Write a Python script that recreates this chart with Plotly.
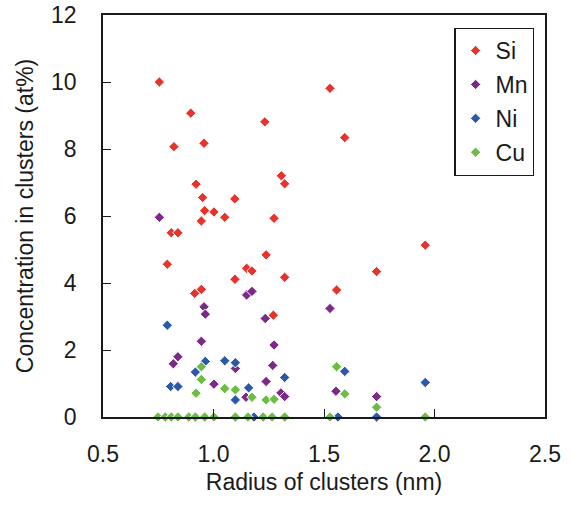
import plotly.graph_objects as go

# Cluster radius (nm) and solute concentration (at%) for each element
si_radius = [0.755, 0.897, 0.821, 0.957, 0.921, 0.951, 1.096, 0.960, 1.002, 1.051,
             0.945, 0.809, 0.839, 0.791, 1.150, 1.174, 1.097, 0.945, 0.915, 1.150,
             1.527, 1.232, 1.594, 1.307, 1.322, 1.274, 1.238, 1.322, 1.738, 1.557,
             1.271, 1.958]
si_conc = [10.0, 9.07, 8.07, 8.17, 6.95, 6.55, 6.51, 6.16, 6.12, 5.96,
           5.85, 5.50, 5.50, 4.56, 4.44, 4.36, 4.11, 3.81, 3.69, 3.64,
           9.81, 8.81, 8.34, 7.20, 6.96, 5.93, 4.84, 4.17, 4.34, 3.79,
           3.04, 5.13]

mn_radius = [0.755, 1.150, 1.174, 0.957, 0.963, 0.945, 0.839, 0.818, 1.099, 1.002,
             1.147, 1.527, 1.234, 1.274, 1.268, 1.238, 1.305, 1.322, 1.554, 1.738]
mn_conc = [5.96, 3.64, 3.75, 3.29, 3.07, 2.26, 1.80, 1.59, 1.45, 0.98,
           0.59, 3.24, 2.94, 2.15, 1.54, 1.06, 0.72, 0.61, 0.77, 0.61]

ni_radius = [0.791, 0.963, 0.918, 1.051, 1.099, 0.806, 0.839, 1.159, 1.099, 1.594,
             1.322, 1.958, 1.183, 1.563, 1.738]
ni_conc = [2.74, 1.66, 1.34, 1.68, 1.62, 0.91, 0.91, 0.87, 0.51, 1.36,
           1.18, 1.03, 0.0, 0.0, 0.0]

cu_radius = [0.945, 0.945, 0.921, 1.051, 1.099, 1.174, 1.238, 1.274, 1.557, 1.594,
             1.738, 0.749, 0.782, 0.809, 0.839, 0.888, 0.918, 0.960, 1.002, 1.099,
             1.156, 1.225, 1.265, 1.322, 1.527, 1.958]
cu_conc = [1.50, 1.12, 0.71, 0.85, 0.81, 0.59, 0.51, 0.53, 1.50, 0.69,
           0.29, 0.0, 0.0, 0.0, 0.0, 0.0, 0.0, 0.0, 0.0, 0.0,
           0.0, 0.0, 0.0, 0.0, 0.0, 0.0]

x_ticks = [0.5, 1.0, 1.5, 2.0, 2.5]
x_tick_labels = ["0.5", "1.0", "1.5", "2.0", "2.5"]
y_ticks = [0, 2, 4, 6, 8, 10, 12]
y_tick_labels = ["0", "2", "4", "6", "8", "10", "12"]

series = [
    ("Si", si_radius, si_conc, "#e8322c"),
    ("Mn", mn_radius, mn_conc, "#7b2a88"),
    ("Ni", ni_radius, ni_conc, "#2a58aa"),
    ("Cu", cu_radius, cu_conc, "#6cbd43"),
]

FONT = "Liberation Sans, Arial, sans-serif"

fig = go.Figure()
for name, xs, ys, color in series:
    fig.add_trace(go.Scatter(
        x=xs, y=ys, mode="markers", name=name,
        legendgroup=name,
        marker=dict(symbol="diamond", size=8, color=color,
                    line=dict(color="white", width=1)),
        cliponaxis=False,
    ))

axis_common = dict(
    showgrid=False, zeroline=False, automargin=False,
    showline=True, linecolor="#1a1a1a", linewidth=1.5, mirror=True,
    ticks="inside", ticklen=8, tickwidth=1.2, tickcolor="#1a1a1a",
    tickfont=dict(family=FONT, size=23, color="#1a1a1a"),
)

fig.update_layout(
    width=572, height=506,
    margin=dict(l=103, r=27, t=15, b=89),
    paper_bgcolor="white", plot_bgcolor="white",
    font=dict(family=FONT, color="#1a1a1a"),
    xaxis=dict(range=[0.5, 2.5], tickvals=x_ticks, ticktext=x_tick_labels,
               ticklabelstandoff=16,
               title=dict(text="Radius of clusters (nm)",
                          font=dict(family=FONT, size=23), standoff=8),
               **axis_common),
    yaxis=dict(range=[0, 12], tickvals=y_ticks, ticktext=y_tick_labels,
               ticklabelstandoff=20,
               title=dict(text="Concentration in clusters (at%)",
                          font=dict(family=FONT, size=23), standoff=11),
               **axis_common),
    legend=dict(
        x=0.795, y=0.968, xanchor="left", yanchor="top",
        bordercolor="#1a1a1a", borderwidth=1.2, bgcolor="white",
        font=dict(family=FONT, size=23, color="#1a1a1a"),
        itemwidth=30, tracegroupgap=1,
    ),
    showlegend=True,
)

fig.write_html("out.html")
